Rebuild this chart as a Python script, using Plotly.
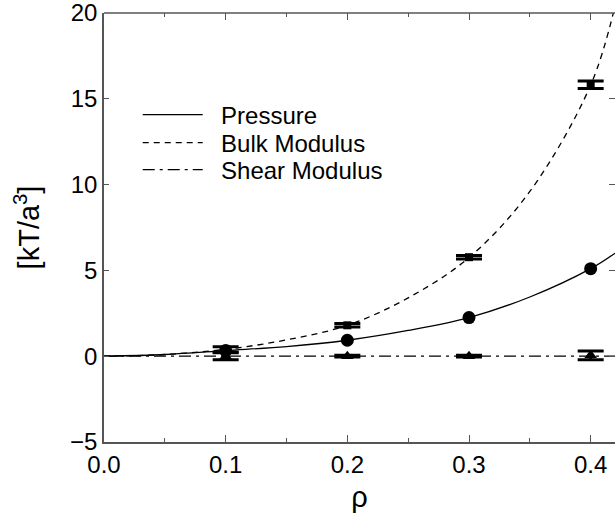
import plotly.graph_objects as go

# Smooth curves
curve_rho = [0.0, 0.05, 0.1, 0.15, 0.2, 0.25, 0.3, 0.35, 0.4, 0.42]
pressure_curve = [0.0, 0.1, 0.33, 0.56, 0.93, 1.5, 2.25, 3.45, 5.1, 6.0]
bulk_curve = [0.0, 0.1, 0.4, 0.95, 1.8, 3.4, 5.75, 9.6, 15.8, 20.4]
shear_curve = [0.0, 0.0, 0.0, 0.0, 0.0, 0.0, 0.0, 0.0, 0.0, 0.0]

# Simulation points
rho_pts = [0.1, 0.2, 0.3, 0.4]
pressure_pts = [0.33, 0.93, 2.25, 5.1]
bulk_pts = [0.4, 1.8, 5.77, 15.82]
bulk_err = [0.15, 0.1, 0.1, 0.22]
shear_pts = [0.0, 0.0, 0.0, 0.05]
shear_err = [0.2, 0.05, 0.05, 0.25]

# Axis ticks
x_range = [0, 0.42]
y_range = [-5, 20]
x_ticks = [0.0, 0.1, 0.2, 0.3, 0.4]
x_ticktext = ["0.0", "0.1", "0.2", "0.3", "0.4"]
x_minor = [0.05, 0.15, 0.25, 0.35]
y_ticks = [-5, 0, 5, 10, 15, 20]
y_ticktext = ["−5", "0", "5", "10", "15", "20"]

FONT = "Liberation Sans, Arial, Helvetica, sans-serif"
AX = "#555555"
SP = "\u00a0\u00a0"

fig = go.Figure()
fig.add_trace(go.Scatter(x=curve_rho, y=pressure_curve, mode="lines", name=SP + "Pressure",
                         legend="legend",
                         line=dict(color="black", width=1.3, shape="spline")))
fig.add_trace(go.Scatter(x=curve_rho, y=bulk_curve, mode="lines", name=SP + "Bulk Modulus",
                         legend="legend2",
                         line=dict(color="black", width=1.3, dash="6px,5px", shape="spline")))
fig.add_trace(go.Scatter(x=curve_rho, y=shear_curve, mode="lines", name=SP + "Shear Modulus",
                         legend="legend3",
                         line=dict(color="black", width=1.3, dash="12px,5px,3px,5px")))

fig.add_trace(go.Scatter(x=rho_pts, y=bulk_pts, mode="markers", showlegend=False,
                         marker=dict(symbol="square", size=8, color="black"),
                         error_y=dict(type="data", array=bulk_err, color="black", thickness=3, width=13)))
fig.add_trace(go.Scatter(x=rho_pts, y=shear_pts, mode="markers", showlegend=False,
                         marker=dict(symbol="triangle-up", size=11, color="black"),
                         error_y=dict(type="data", array=shear_err, color="black", thickness=3, width=13)))
fig.add_trace(go.Scatter(x=rho_pts, y=pressure_pts, mode="markers", showlegend=False,
                         marker=dict(symbol="circle", size=13, color="black")))
# empty traces so the mirrored tick axes are drawn
fig.add_trace(go.Scatter(x=[], y=[], xaxis="x2", yaxis="y", showlegend=False, hoverinfo="skip"))
fig.add_trace(go.Scatter(x=[], y=[], xaxis="x", yaxis="y2", showlegend=False, hoverinfo="skip"))

TOP = 13
BOT = 442
def leg(ypix):
    return dict(x=0.066, y=1 - (ypix - TOP) / (BOT - TOP), xanchor="left", yanchor="middle",
                bgcolor="rgba(0,0,0,0)", font=dict(size=24, family=FONT), itemwidth=60)

fig.update_layout(
    width=615, height=518,
    margin=dict(l=104, r=0, t=TOP, b=518 - BOT, autoexpand=False),
    paper_bgcolor="white", plot_bgcolor="white",
    font=dict(family=FONT, size=24, color="black"),
    showlegend=True,
    legend=leg(115), legend2=leg(143), legend3=leg(170),
    xaxis=dict(range=x_range, showgrid=False, zeroline=False, showline=True, linecolor=AX,
               linewidth=1.5, mirror=False, ticks="inside", ticklen=7, tickcolor=AX,
               tickwidth=1.2, tickvals=x_ticks, ticktext=x_ticktext,
               minor=dict(ticks="inside", ticklen=4, tickcolor=AX, tickwidth=1.2,
                          tickvals=x_minor, showgrid=False),
               title=dict(text="ρ", standoff=10), tickfont=dict(size=24), automargin=False,
               ticklabeloverflow="allow"),
    xaxis2=dict(range=x_range, overlaying="x", side="top", anchor="y", showgrid=False,
                zeroline=False, showline=False, showticklabels=False, ticks="inside",
                ticklen=7, tickcolor=AX, tickwidth=1.2, tickvals=x_ticks,
                minor=dict(ticks="inside", ticklen=4, tickcolor=AX, tickwidth=1.2,
                           tickvals=x_minor, showgrid=False),
                automargin=False),
    yaxis=dict(range=y_range, showgrid=False, zeroline=False, showline=True, linecolor=AX,
               linewidth=1.5, mirror=False, ticks="inside", ticklen=5, tickcolor=AX,
               tickwidth=1.2, tickvals=y_ticks, ticktext=y_ticktext,
               title=dict(text="[kT/a<sup>3</sup>]", standoff=22), tickfont=dict(size=24),
               automargin=False, ticklabeloverflow="allow"),
    yaxis2=dict(range=y_range, overlaying="y", side="right", anchor="x", showgrid=False,
                zeroline=False, showline=False, showticklabels=False, ticks="inside",
                ticklen=6, tickcolor=AX, tickwidth=1.2, tickvals=y_ticks, automargin=False),
    shapes=[dict(type="line", xref="paper", yref="paper", x0=0, x1=1, y0=1, y1=1,
                 line=dict(color=AX, width=1.5), layer="above")],
)

fig.write_html("out.html", config={"displayModeBar": False},
               post_script="document.body.style.margin='0';document.body.style.overflow='hidden';")
